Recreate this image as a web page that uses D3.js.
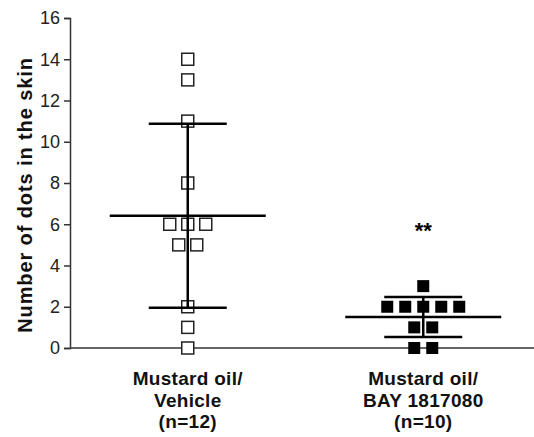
<!DOCTYPE html>
<html><head><meta charset="utf-8">
<script src="https://cdn.jsdelivr.net/npm/d3@7"></script>
<style>body{margin:0;background:#fff}svg{display:block}</style>
</head><body>
<script>
const categories = ["Mustard oil/|Vehicle|(n=12)", "Mustard oil/|BAY 1817080|(n=10)"];
const vehicleValues = [14, 13, 11, 8, 6, 6, 6, 5, 5, 2, 1, 0];
const bayValues = [3, 2, 2, 2, 2, 2, 1, 1, 0, 0];
const yTicks = [0, 2, 4, 6, 8, 10, 12, 14, 16];
const yTitle = "Number of dots in the skin";
const significance = ["", "**"];

const W = 534, H = 437;
const font = "Liberation Sans, Arial, sans-serif";
const svg = d3.select("body").append("svg").attr("width", W).attr("height", H);
const y = d3.scaleLinear().domain([0, 16]).range([348, 18]);
const x = d3.scaleBand().domain(categories).range([70, 541]);
const cx = c => x(c) + x.bandwidth() / 2;

// y axis
const yAxis = d3.axisLeft(y).tickValues(yTicks).tickSize(6).tickPadding(4).tickSizeOuter(6);
const ga = svg.append("g").attr("transform", "translate(70,0)").call(yAxis);
ga.select(".domain").attr("stroke", "#333").attr("stroke-width", 1.5);
ga.selectAll(".tick line").attr("stroke", "#333").attr("stroke-width", 1.5);
ga.selectAll(".tick text").attr("font-family", font)
  .attr("font-size", 18).attr("fill", "#222");

// x axis baseline
svg.append("line").attr("x1", 70).attr("x2", W).attr("y1", y(0)).attr("y2", y(0))
  .attr("stroke", "#333").attr("stroke-width", 1.5);

// y title
svg.append("text").attr("transform", `translate(32,195) rotate(-90)`)
  .attr("text-anchor", "middle").attr("font-family", font)
  .attr("font-weight", "bold").attr("font-size", 20).attr("letter-spacing", 0.9).attr("fill", "#111")
  .text(yTitle);

const groups = [
  {cat: categories[0], vals: vehicleValues, filled: false},
  {cat: categories[1], vals: bayValues, filled: true}
];
const step = 18, ms = 12;

groups.forEach((g, gi) => {
  const c = cx(g.cat);
  const mean = d3.mean(g.vals), sd = d3.deviation(g.vals);
  const counts = d3.rollup(g.vals, v => v.length, d => d);
  const seen = new Map();
  const pts = g.vals.map(v => {
    const n = counts.get(v); const k = seen.get(v) || 0; seen.set(v, k + 1);
    return {v, dx: (k - (n - 1) / 2) * step};
  });
  svg.append("g").selectAll("rect").data(pts).join("rect")
    .attr("x", d => c + d.dx - ms / 2).attr("y", d => y(d.v) - ms / 2)
    .attr("width", ms).attr("height", ms)
    .attr("fill", g.filled ? "#000" : "#fff")
    .attr("stroke", g.filled ? "#000" : "#222").attr("stroke-width", g.filled ? 0 : 1.5);
  const lg = svg.append("g").attr("stroke", "#000").attr("stroke-width", 2.5);
  lg.append("line").attr("x1", c).attr("x2", c).attr("y1", y(mean + sd)).attr("y2", y(mean - sd));
  lg.append("line").attr("x1", c - 39).attr("x2", c + 39).attr("y1", y(mean + sd)).attr("y2", y(mean + sd));
  lg.append("line").attr("x1", c - 39).attr("x2", c + 39).attr("y1", y(mean - sd)).attr("y2", y(mean - sd));
  lg.append("line").attr("x1", c - 78).attr("x2", c + 78).attr("y1", y(mean)).attr("y2", y(mean));
  if (significance[gi]) {
    svg.append("text").attr("x", c).attr("y", 238).attr("text-anchor", "middle")
      .attr("font-family", font).attr("font-weight", "bold")
      .attr("font-size", 22).attr("fill", "#000").text(significance[gi]);
  }
  const t = svg.append("text").attr("text-anchor", "middle")
    .attr("font-family", font).attr("font-weight", "bold")
    .attr("font-size", 19).attr("letter-spacing", 0.3).attr("fill", "#111");
  g.cat.split("|").forEach((line, li) => {
    t.append("tspan").attr("x", c).attr("y", 385 + li * 21.5).text(line);
  });
});
</script>
</body></html>
